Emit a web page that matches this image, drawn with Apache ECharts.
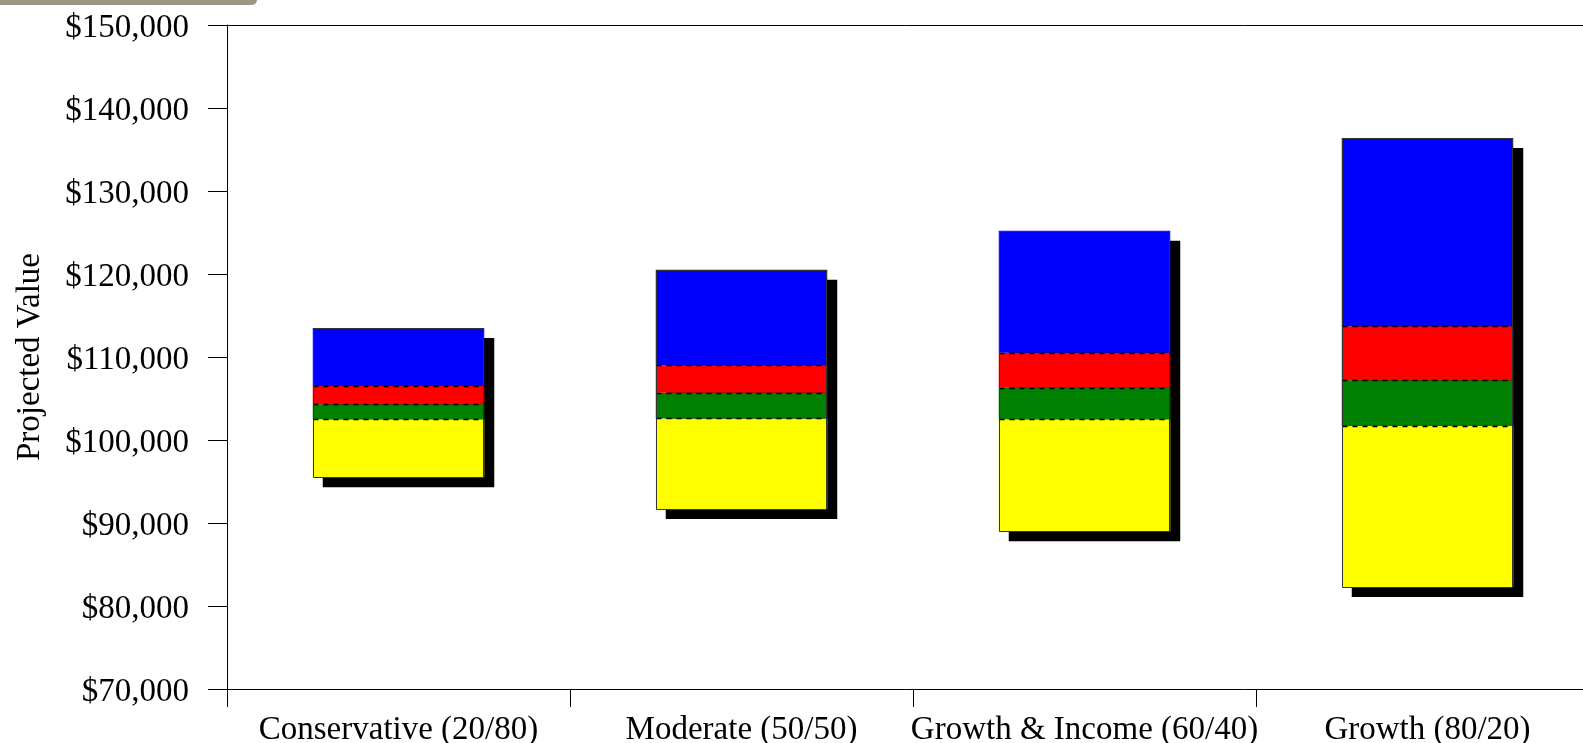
<!DOCTYPE html>
<html>
<head>
<meta charset="utf-8">
<title>Projected Value by Portfolio</title>
<script src="https://cdn.jsdelivr.net/npm/echarts@6/dist/echarts.min.js"></script>
<style>
  html, body { margin: 0; padding: 0; background: #ffffff; overflow: hidden; }
  #chart { width: 1583px; height: 743px; }
</style>
</head>
<body>
<div id="chart"></div>
<script>
// Portfolio mixes (stocks/bonds)
const categories = ['Conservative (20/80)', 'Moderate (50/50)', 'Growth & Income (60/40)', 'Growth (80/20)'];

// Projected value bands: bottom of range, quartile boundaries, top of range
const lowValues    = [95500, 91700, 89000, 82300];
const lowerQuartile = [102500, 102600, 102500, 101700];
const medianValues = [104300, 105700, 106300, 107200];
const upperQuartile = [106500, 109000, 110500, 113700];
const highValues   = [113500, 120500, 125200, 136400];

const yTicks = { min: 70000, max: 150000, interval: 10000 };

const bandColors = ['#ffff00', '#008000', '#ff0000', '#0000ff'];
const bandNames = ['Low band', 'Lower-middle band', 'Upper-middle band', 'High band'];

const bounds = [lowValues, lowerQuartile, medianValues, upperQuartile, highValues];
const SERIF = '"Liberation Serif", "Times New Roman", serif';
const BAR_RATIO = 0.5;

function segment(i) {
  return categories.map((_, k) => bounds[i + 1][k] - bounds[i][k]);
}

const chart = echarts.init(document.getElementById('chart'));

const bandSeries = bandNames.map((name, i) => ({
  type: 'bar',
  name: name,
  stack: 'range',
  barWidth: (BAR_RATIO * 100) + '%',
  z: 3,
  itemStyle: { color: bandColors[i], borderWidth: 0 },
  silent: true,
  data: segment(i)
}));

const boxData = categories.map((_, k) => [k, lowValues[k], lowerQuartile[k], medianValues[k], upperQuartile[k], highValues[k]]);

chart.setOption({
  animation: false,
  backgroundColor: '#ffffff',
  grid: { left: 227, top: 25, width: 1372, bottom: 54, containLabel: false, outerBoundsMode: 'none' },
  graphic: [{
    type: 'rect',
    left: 0, top: 0,
    shape: { width: 257, height: 5, r: [0, 0, 5, 0] },
    style: { fill: '#9c9783' }
  }],
  xAxis: [{
    type: 'category',
    data: categories,
    axisLine: { lineStyle: { color: '#000', width: 1 } },
    axisTick: { show: true, length: 18, lineStyle: { color: '#000' } },
    axisLabel: { color: '#000', fontFamily: SERIF, fontSize: 33, margin: 25, interval: 0 }
  }, {
    type: 'category',
    position: 'top',
    data: categories,
    axisLine: { show: true, onZero: false, lineStyle: { color: '#000', width: 1 } },
    axisTick: { show: false },
    axisLabel: { show: false }
  }],
  yAxis: {
    type: 'value',
    min: yTicks.min, max: yTicks.max, interval: yTicks.interval,
    name: 'Projected Value',
    nameLocation: 'middle',
    nameGap: 180,
    nameRotate: 90,
    nameTextStyle: { color: '#000', fontFamily: SERIF, fontSize: 33 },
    axisLine: { show: true, lineStyle: { color: '#000', width: 1 } },
    axisTick: { show: true, length: 19, lineStyle: { color: '#000' } },
    splitLine: { show: false },
    axisLabel: {
      color: '#000', fontFamily: SERIF, fontSize: 33, margin: 38,
      formatter: v => '{v|$' + v.toLocaleString('en-US') + '}',
      rich: {
        v: { color: '#000', fontFamily: SERIF, fontSize: 33, padding: [6, 0, 0, 0] }
      }
    }
  },
  series: [
    {
      // drop shadow behind each whole range bar
      type: 'custom',
      z: 1,
      silent: true,
      data: boxData,
      renderItem: (params, api) => {
        const top = api.coord([api.value(0), api.value(5)]);
        const bot = api.coord([api.value(0), api.value(1)]);
        const w = api.size([1, 0])[0] * BAR_RATIO;
        return {
          type: 'rect',
          shape: { x: top[0] - w / 2 + 10, y: top[1] + 10, width: w, height: bot[1] - top[1] },
          style: { fill: '#000' }
        };
      }
    },
    {
      type: 'bar',
      name: 'base',
      stack: 'range',
      barWidth: (BAR_RATIO * 100) + '%',
      z: 2,
      silent: true,
      itemStyle: { color: 'transparent' },
      data: lowValues
    },
    ...bandSeries,
    {
      // outline of each range bar plus dashed band boundaries
      type: 'custom',
      z: 5,
      silent: true,
      data: boxData,
      renderItem: (params, api) => {
        const x = api.value(0);
        const w = api.size([1, 0])[0] * BAR_RATIO;
        const cx = api.coord([x, api.value(1)])[0];
        const x0 = Math.round(cx - w / 2) + 0.5;
        const x1 = Math.round(cx + w / 2) - 0.5;
        const yLow = api.coord([x, api.value(1)])[1];
        const yHigh = api.coord([x, api.value(5)])[1];
        const children = [1, 2, 3].map(j => {
          const y = Math.round(api.coord([x, api.value(1 + j)])[1]) + 0.5;
          return {
            type: 'line',
            shape: { x1: x0, y1: y, x2: x1, y2: y },
            style: { stroke: '#000', lineWidth: 1.5, lineDash: [5, 5] }
          };
        });
        children.push({
          type: 'rect',
          shape: { x: x0, y: Math.round(yHigh) + 0.5, width: x1 - x0, height: Math.round(yLow) - Math.round(yHigh) },
          style: { fill: 'none', stroke: '#333', lineWidth: 1 }
        });
        return { type: 'group', children: children };
      }
    }
  ]
});
</script>
</body>
</html>
